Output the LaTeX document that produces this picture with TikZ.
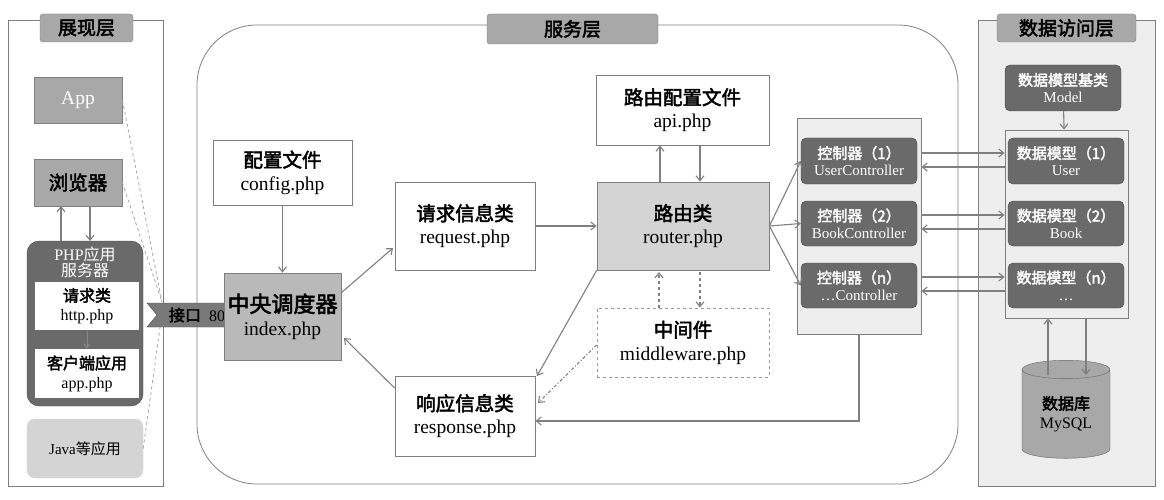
\documentclass[tikz,border=0pt]{standalone}
\usepackage{fontspec}
\setmainfont{Liberation Serif}
\newfontfamily\cjk{Noto Sans CJK SC}[AutoFakeBold=2.5]
\newcommand{\zh}[1]{{\cjk #1}}
\newcommand{\zb}[1]{{\cjk\bfseries #1}}
\usetikzlibrary{arrows.meta,shapes.geometric}
\definecolor{ln}{HTML}{7F7F7F}
\definecolor{dk}{HTML}{6A6A6A}
\definecolor{md}{HTML}{A8A8A8}
\definecolor{lt}{HTML}{D4D4D4}
\definecolor{pale}{HTML}{EEEEEE}
\begin{document}
\begin{tikzpicture}[x=1pt,y=-1pt,
  every node/.style={inner sep=0pt,align=center},
  box/.style={draw=ln,line width=0.8pt,fill=white,font=\fontsize{19.5}{23}\selectfont},
  gbox/.style={box,fill=lt},
  dbox/.style={draw=dk!70!black,fill=dk,rounded corners=5pt,text=white,font=\fontsize{15}{17}\selectfont},
  tab/.style={draw=ln,fill=md,rounded corners=3pt,font=\fontsize{19}{21}\selectfont},
  ar/.style={draw=ln,line width=1.1pt,-{Straight Barb[length=5pt,width=8pt]}},
  dl/.style={draw=ln!70,line width=0.8pt,dashed}]
\useasboundingbox (0,0) rectangle (1164,500);
% panels
\node[draw=ln,line width=0.8pt,minimum width=155pt,minimum height=466pt] (left) at (85.5,253) {};
\node[draw=ln,line width=0.8pt,rounded corners=60pt,minimum width=761pt,minimum height=459pt] (svc) at (577.5,254.5) {};
\node[draw=ln,line width=0.8pt,fill=pale,minimum width=177pt,minimum height=466pt] (right) at (1066.5,253) {};
\node[tab,minimum width=93pt,minimum height=28pt] (t1) at (86.5,28) {\zb{展现层}};
\node[tab,minimum width=171pt,minimum height=30pt] (t2) at (572.5,29) {\zb{服务层}};
\node[tab,minimum width=139pt,minimum height=28pt] (t3) at (1066.5,28) {\zb{数据访问层}};
% left layer
\node[box,fill=md,text=white,minimum width=88pt,minimum height=46pt] (app) at (78,100) {App};
\node[box,fill=md,minimum width=88pt,minimum height=47pt] (br) at (78,182.5) {\zb{浏览器}};
\node[draw=dk!70!black,fill=dk,rounded corners=12pt,minimum width=116pt,minimum height=165pt] (php) at (85,323.5) {};
\node[text=white,font=\fontsize{16}{16}\selectfont] (phpt) at (85,262) {PHP\zh{应用}\\\zh{服务器}};
\node[box,minimum width=104pt,minimum height=48pt,draw=none,font=\fontsize{16}{19}\selectfont] (http) at (87,306) {\zb{请求类}\\http.php};
\node[box,minimum width=104pt,minimum height=49pt,draw=none,font=\fontsize{16}{19}\selectfont] (cli) at (87,373.5) {\zb{客户端应用}\\app.php};
\draw[draw=dk!80!white,line width=1pt,-{Straight Barb[length=4pt,width=6pt]}] (http) -- (cli);
\node[draw=lt,fill=lt,rounded corners=8pt,minimum width=116pt,minimum height=59pt,font=\fontsize{15}{17}\selectfont] (java) at (85,448.5) {Java\zh{等应用}};
\draw[ar] (61,241) -- (61,206);
\draw[ar] (90,206) -- (90,241);
\coordinate (port) at (162,302);
\draw[dl] (app.east) -- (port);
\draw[dl] (br.east) -- (port);
\draw[dl] (java.east) -- (163,306);
% interface tag
\draw[draw=dk!70!black,fill=dk!90!white] (147,303) -- (225,303) -- (240,315) -- (225,327) -- (147,327) -- (157,315) -- cycle;
\node[font=\fontsize{16}{16}\selectfont] (port80) at (197,315) {\zb{接口}\ \ 80};
% service layer
\node[box,minimum width=139pt,minimum height=65pt] (cfg) at (282.5,172.5) {\zb{配置文件}\\config.php};
\node[box,fill=md!80!white,minimum width=117pt,minimum height=87pt] (idx) at (282.5,316.5) {\fontsize{22}{25}\selectfont\zb{中央调度器}\\index.php};
\node[box,minimum width=140pt,minimum height=88pt] (req) at (465,226) {\zb{请求信息类}\\request.php};
\node[box,minimum width=140pt,minimum height=80pt] (res) at (465,416) {\zb{响应信息类}\\response.php};
\node[gbox,minimum width=172pt,minimum height=88pt] (rt) at (683,226) {\zb{路由类}\\router.php};
\node[box,minimum width=173pt,minimum height=70pt] (api) at (682.5,110) {\zb{路由配置文件}\\api.php};
\node[box,dashed,draw=ln!80,minimum width=172pt,minimum height=69pt] (mw) at (683,342.5) {\zb{中间件}\\middleware.php};
\node[draw=ln,line width=0.8pt,fill=pale,minimum width=124pt,minimum height=216pt] (cp) at (859,226) {};
\node[dbox,minimum width=116pt,minimum height=46pt] (c1) at (859,161) {\zb{控制器（1）}\\UserController};
\node[dbox,minimum width=116pt,minimum height=45pt] (c2) at (859,223.5) {\zb{控制器（2）}\\BookController};
\node[dbox,minimum width=116pt,minimum height=45pt] (c3) at (859,285.5) {\zb{控制器（n）}\\\ldots Controller};
% data layer
\node[dbox,minimum width=116pt,minimum height=46pt] (mb) at (1063,88) {\zb{数据模型基类}\\Model};
\node[draw=ln,line width=0.8pt,fill=pale,minimum width=123pt,minimum height=188pt] (mp) at (1066.5,224) {};
\node[dbox,minimum width=116pt,minimum height=46pt] (m1) at (1066,161) {\zb{数据模型（1）}\\User};
\node[dbox,minimum width=116pt,minimum height=45pt] (m2) at (1066,223.5) {\zb{数据模型（2）}\\Book};
\node[dbox,minimum width=116pt,minimum height=45pt] (m3) at (1066,285.5) {\zb{数据模型（n）}\\\ldots};
\node[cylinder,shape border rotate=90,draw=ln!80!black,fill=md,aspect=0.35,minimum width=88pt,minimum height=98pt,font=\fontsize{16}{19}\selectfont] (db) at (1066,414) {\zb{数据库}\\MySQL};
% connectors
\draw[ar] (cfg) -- (idx);
\draw[ar] (341,293) -- (393,248);
\draw[ar] (res.west |- 0,388) -- (344,338);
\draw[ar] (req) -- (rt);
\draw[ar] (rt.north -| 660,0) -- (api.south -| 660,0);
\draw[ar] (api.south -| 700,0) -- (rt.north -| 700,0);
\draw[ar] (rt.south west) -- (537,376);
\draw[ar,dashed] (mw.north -| 659,0) -- (659,272);
\draw[ar,dashed] (700,272) -- (mw.north -| 700,0);
\draw[ar,dash dot] (mw.west |- 0,345) -- (538,403);
\draw[ar] (rt.east) -- (c1.west);
\draw[ar] (rt.east) -- (c2.west);
\draw[ar] (rt.east) -- (c3.west);
\draw[ar] (cp.south) -- (859,421) -- (res.east |- 0,421);
\foreach \a/\b/\y in {c1/m1/153,c2/m2/215,c3/m3/277}{
  \draw[ar] (cp.east |- 0,\y) -- (mp.west |- 0,\y);
  \draw[ar] (mp.west |- 0,\y+14) -- (cp.east |- 0,\y+14);
}
\draw[ar] (mb) -- (mp);
\draw[ar] (1048,375) -- (mp.south -| 1048,0);
\draw[ar] (mp.south -| 1086,0) -- (1086,375);
\end{tikzpicture}
\end{document}
